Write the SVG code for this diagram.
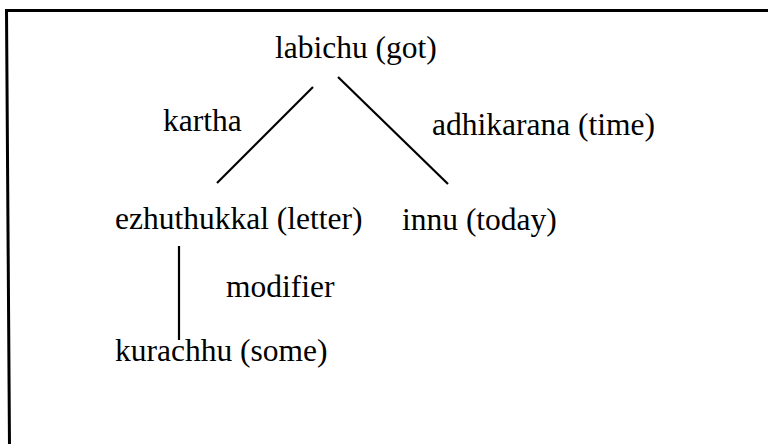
<svg xmlns="http://www.w3.org/2000/svg" width="768" height="444" viewBox="0 0 768 444">
<style>
text{font-family:"Liberation Serif","Times New Roman",serif;font-size:31.5px;fill:#000}
.c{stroke:#000;stroke-width:2.2;fill:none}
.frame{stroke:#000;stroke-width:3;fill:none}
</style>
<rect width="768" height="444" fill="#fff"/>
<path class="frame" d="M9.5 446 L6.5 10.5 H770"/>
<g id="connectors">
<line class="c" x1="313" y1="87" x2="217" y2="183"/>
<line class="c" x1="338" y1="77" x2="448" y2="184"/>
<line class="c" x1="179" y1="246" x2="179" y2="340"/>
</g>
<g id="n-labichu"><text x="275" y="58">labichu (got)</text></g>
<g id="n-ezhuthukkal"><text x="115" y="229">ezhuthukkal (letter)</text></g>
<g id="n-innu"><text x="402" y="230">innu (today)</text></g>
<g id="n-kurachhu"><text x="115" y="361">kurachhu (some)</text></g>
<g id="labels">
<text x="163" y="131">kartha</text>
<text x="432" y="135">adhikarana (time)</text>
<text x="226" y="297">modifier</text>
</g>
</svg>
